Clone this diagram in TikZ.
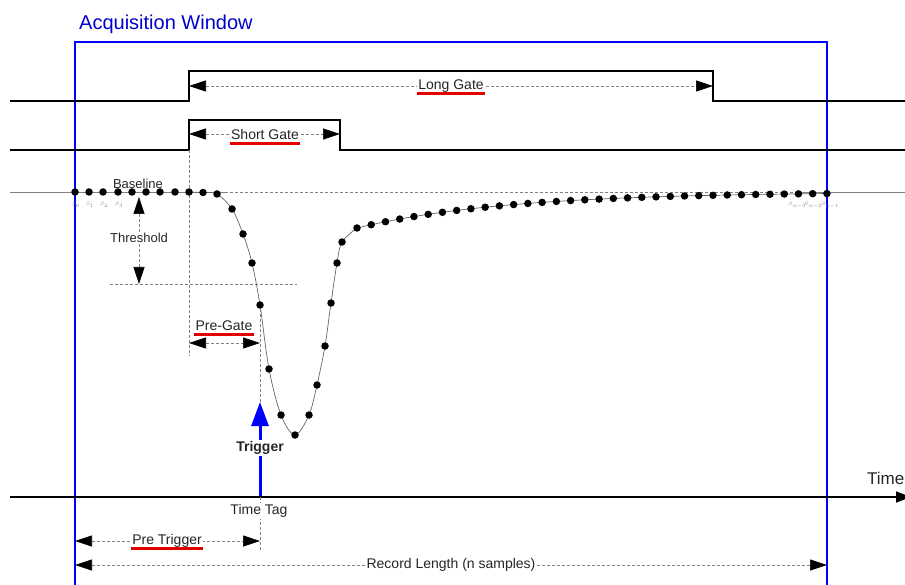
\documentclass[tikz,border=0pt]{standalone}
\usepackage{fontspec}
\setmainfont{Liberation Sans}
\usetikzlibrary{arrows.meta}
\begin{document}
\begin{tikzpicture}[x=1pt,y=-1pt,
  lbl/.style={font=\fontsize{14}{16}\selectfont, text=black!85, inner sep=1pt},
  small/.style={font=\fontsize{13}{15}\selectfont, text=black!85, inner sep=1pt},
  dim/.style={dash pattern=on 3pt off 2pt, draw=gray, line width=0.6pt, {Triangle[length=17pt,width=11pt,color=black]}-{Triangle[length=17pt,width=11pt,color=black]}},
  guide/.style={dash pattern=on 3pt off 2pt, draw=gray, line width=0.6pt},
  gate/.style={line width=2pt, black},
  uline/.style={draw=red!90!black, line width=3pt},
  dot/.style={circle, fill=black, inner sep=0pt, minimum size=7.5pt},
  slab/.style={font=\fontsize{5.5}{6}\selectfont, text=gray, inner sep=0pt},
  curve/.style={draw=gray!80!black, line width=0.7pt}]
\useasboundingbox (0,0) rectangle (905,585);

% acquisition window
\draw[blue, line width=1.8pt] (75,42) rectangle (827,600);
\node[anchor=west, text=blue!80!black, font=\fontsize{20}{22}\selectfont, inner sep=0pt] (title) at (79,24) {Acquisition Window};

% gates
\draw[gate] (10,101) -- (189,101) -- (189,71) -- (713,71) -- (713,101) -- (905,101);
\draw[gate] (10,150) -- (189,150) -- (189,120) -- (340,120) -- (340,150) -- (905,150);
\coordinate (lgL) at (189,86); \coordinate (lgR) at (713,86);
\draw[dim] (lgL) -- (lgR);
\node[lbl, fill=white] (lg) at (451,86) {Long Gate};
\draw[uline] ([yshift=-4pt]lg.base west) -- ([yshift=-4pt]lg.base east);
\coordinate (sgL) at (189,134); \coordinate (sgR) at (340,134);
\draw[dim] (sgL) -- (sgR);
\node[lbl, fill=white] (sg) at (265,134) {Short Gate};
\draw[uline] ([yshift=-4pt]sg.base west) -- ([yshift=-4pt]sg.base east);

% baseline
\coordinate (bl0) at (10,192); \coordinate (bl1) at (225,192);
\coordinate (bl2) at (800,192); \coordinate (bl3) at (905,192);
\draw[gray, line width=0.6pt] (bl0) -- (bl1);
\draw[guide] (bl1) -- (bl2);
\draw[gray, line width=0.6pt] (bl2) -- (bl3);
\node[small] (baseline) at (138,184) {Baseline};

% guides
\coordinate (g1T) at (189,150); \coordinate (g1B) at (189,356);
\draw[guide] (g1T) -- (g1B);
\coordinate (thL) at (110,284); \coordinate (thR) at (297,284);
\draw[guide] (thL) -- (thR);
\coordinate (thT) at (139,197); \coordinate (thB) at (139,284);
\draw[dim] (thT) -- (thB);
\node[small, fill=white] (thr) at (139,238) {Threshold};

% pre-gate
\coordinate (pgL) at (189,343); \coordinate (pgR) at (260,343);
\draw[dim] (pgL) -- (pgR);
\node[lbl] (pg) at (224,326) {Pre-Gate};
\draw[uline] ([yshift=-4pt]pg.base west) -- ([yshift=-4pt]pg.base east);

% pulse curve
\draw[curve] plot[smooth, tension=0.55] coordinates {(189,192) (203,192.5) (217,194) (232,209) (243,234) (252,263) (260,305) (269,369) (281,415) (295,435) (309,415) (317,385) (325,346) (331,303) (337,263) (342,242) (357,228)};
\draw[curve] plot[domain=357:827, samples=60] (\x,{192+36*exp(-(\x-357)/149)});

% samples
\foreach \x/\y [count=\i] in {75/192,89/192,103/192,118/192,132/192,146/192,160/192,175/192,189/192,203/192.5,217/194,232/209,243/234,252/263,260/305,269/369,281/415,295/435,309/415,317/385,325/346,331/303,337/263,342/242,357/228}
  \node[dot] (p\i) at (\x,\y) {};
\foreach \k in {1,...,33} {
  \pgfmathsetmacro\xx{357+\k*14.24}
  \pgfmathsetmacro\yy{192+36*exp(-(\xx-357)/149)}
  \node[dot] (t\k) at (\xx,\yy) {};
}
\node[slab] (s0) at (76,205) {$S_0$};
\node[slab] (s1) at (90,205) {$S_1$};
\node[slab] (s2) at (104,205) {$S_2$};
\node[slab] (s3) at (119,205) {$S_3$};
\node[slab] (sn3) at (797,205) {$S_{n-3}$};
\node[slab] (sn2) at (813,205) {$S_{n-2}$};
\node[slab] (sn1) at (830,205) {$S_{n-1}$};

% trigger
\coordinate (trgT) at (260,402); \coordinate (trgB) at (260,497);
\draw[guide] (p15) -- (trgT);
\draw[blue, line width=3pt, -{Triangle[length=24pt,width=17pt]}] (trgB) -- (trgT);
\node[font=\fontsize{14}{16}\selectfont\bfseries, text=black!85, fill=white, inner sep=1pt] (trig) at (260,448) {Trigger};

% time axis
\coordinate (axL) at (10,497); \coordinate (axR) at (911,497);
\draw[line width=1.5pt, -{Triangle[length=15pt,width=11pt]}] (axL) -- (axR);
\node[anchor=west, font=\fontsize{17}{19}\selectfont, text=black!85, inner sep=0pt] (time) at (867,478) {Time};
\coordinate (ttB) at (260,550);
\draw[guide] (trgB) -- (ttB);
\node[lbl, fill=white] (tt) at (259,511) {Time Tag};

% pre trigger
\coordinate (ptL) at (75,541); \coordinate (ptR) at (260,541);
\draw[dim] (ptL) -- (ptR);
\node[lbl, fill=white] (pt) at (167,541) {Pre Trigger};
\draw[uline] ([yshift=-4pt]pt.base west) -- ([yshift=-4pt]pt.base east);

% record length
\coordinate (rlL) at (75,565); \coordinate (rlR) at (827,565);
\draw[dim] (rlL) -- (rlR);
\node[lbl, fill=white] (rl) at (451,565) {Record Length (n samples)};
\end{tikzpicture}
\end{document}
